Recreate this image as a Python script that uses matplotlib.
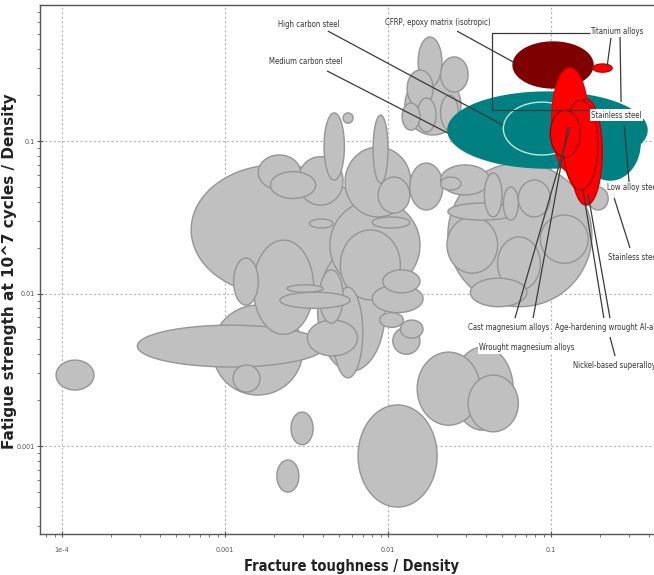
import numpy as np
import matplotlib
matplotlib.use("Agg")
import matplotlib.pyplot as plt
from matplotlib import font_manager as fm
from matplotlib.ticker import FixedLocator, FixedFormatter, LogLocator, NullFormatter

# Background material families: ranges of fracture toughness / density (k)
# and fatigue strength at 10^7 cycles / density (f)
bg_k_lo = [6.2e-4, 1.9e-3, 2.8e-3, 1.6e-3, 4.05e-3, 5.3e-3, 8.1e-3, 5.45e-3, 1.36e-2, 8.7e-3,
           8.0e-3, 3.3e-3, 1.49e-3, 1.13e-3, 8.4e-4, 2.9e-4, 1.12e-3, 2.4e-3, 2.17e-3, 3.2e-3,
           4.6e-3, 3.7e-3, 8.0e-3, 9.3e-3, 8.9e-3, 1.07e-2, 1.19e-2, 3.8e-3, 4.4e-3, 5.1e-3,
           2.33e-2, 2.33e-2, 2.3e-2, 3.9e-2, 5.1e-2, 4.7e-2, 8.6e-2, 3.2e-2, 1.69e-1, 2.1e-2,
           6.3e-2, 2.1e-2, 1.27e-2, 1.53e-2, 2.1e-2, 1.31e-2, 1.22e-2, 1.51e-2, 2.1e-2, 1.51e-2,
           2.5e-2, 3.1e-2, 6.55e-3, 2.54e-3, 2.08e-3, 9.2e-5]
bg_k_hi = [7.2e-3, 3.6e-3, 5.3e-3, 2.9e-3, 5.4e-3, 6.1e-3, 1.0e-2, 1.38e-2, 2.17e-2, 1.36e-2,
           1.36e-2, 4.6e-3, 3.5e-3, 1.6e-3, 3.0e-3, 4.1e-3, 1.64e-3, 4.0e-3, 5.85e-3, 6.5e-3,
           7.0e-3, 9.6e-3, 1.64e-2, 1.57e-2, 1.24e-2, 1.57e-2, 1.64e-2, 5.3e-3, 1.57e-2, 1.19e-2,
           1.78e-1, 6.2e-2, 4.7e-2, 5.0e-2, 6.3e-2, 8.6e-2, 1.69e-1, 7.1e-2, 2.24e-1, 4.2e-2,
           9.9e-2, 2.8e-2, 2.8e-2, 2.14e-2, 3.1e-2, 1.89e-2, 1.57e-2, 1.97e-2, 2.7e-2, 3.67e-2,
           5.85e-2, 6.3e-2, 2.0e-2, 3.47e-3, 2.84e-3, 1.57e-4]
bg_f_lo = [0.0098, 0.042, 0.038, 0.048, 0.0555, 0.131, 0.053, 0.0318, 0.0353, 0.0337,
           0.0269, 0.0269, 0.0054, 0.0084, 0.00216, 0.0033, 0.00226, 0.0102, 0.0080, 0.0039,
           0.0028, 0.0031, 0.0075, 0.0101, 0.0060, 0.0040, 0.0051, 0.0064, 0.0105, 0.0091,
           0.0082, 0.0303, 0.0136, 0.0318, 0.0303, 0.0105, 0.0158, 0.0082, 0.0353, 0.0443,
           0.0318, 0.0477, 0.1095, 0.226, 0.2095, 0.167, 0.118, 0.1146, 0.118, 0.00137,
           0.00127, 0.00124, 0.000398, 0.00102, 0.000499, 0.00233]
bg_f_hi = [0.070, 0.063, 0.079, 0.081, 0.153, 0.153, 0.148, 0.0913, 0.0717, 0.0581,
           0.0318, 0.0308, 0.0224, 0.0171, 0.0084, 0.0062, 0.0034, 0.0114, 0.0102, 0.0067,
           0.0110, 0.0193, 0.0114, 0.0143, 0.0075, 0.0060, 0.0067, 0.0143, 0.041, 0.0261,
           0.0717, 0.0392, 0.0318, 0.0617, 0.0499, 0.0235, 0.0327, 0.0126, 0.0499, 0.0697,
           0.0555, 0.0581, 0.271, 0.481, 0.356, 0.292, 0.1775, 0.1915, 0.200, 0.00413,
           0.00446, 0.00292, 0.00186, 0.00167, 0.00081, 0.00366]

# Highlighted families, in drawing order
hl_names = ["Medium carbon steel", "High carbon steel", "Low alloy steel",
            "CFRP, epoxy matrix (isotropic)", "Titanium alloys",
            "Age-hardening wrought Al-alloys", "Nickel-based superalloys",
            "Wrought magnesium alloys", "Cast magnesium alloys"]
hl_k_lo = [2.33e-2, 5.1e-2, 1.51e-1, 5.85e-2, 1.81e-1, 1.01e-1, 1.31e-1, 1.19e-1, 9.9e-2]
hl_k_hi = [3.88e-1, 1.51e-1, 3.52e-1, 1.81e-1, 2.37e-1, 1.69e-1, 2.06e-1, 1.94e-1, 1.51e-1]
hl_f_lo = [0.0665, 0.081, 0.0555, 0.223, 0.283, 0.0626, 0.038, 0.0477, 0.0785]
hl_f_hi = [0.2095, 0.180, 0.172, 0.446, 0.320, 0.301, 0.1885, 0.1857, 0.1595]
hl_face = ["#008080", "#008080", "#008080", "#7f0000", "#ff0000",
           "#ff0000", "#ff0000", "#ff0000", "#ff0000"]
hl_edge = ["#008080", "#bfe5e5", "#008080", "#7f0000", "#c00000",
           "#e00000", "#c00000", "#9a0000", "#9a0000"]

x_ticks = [1e-4, 1e-3, 1e-2, 1e-1]
x_tick_labels = ["1e-4", "0.001", "0.01", "0.1"]
y_ticks = [1e-3, 1e-2, 1e-1]
y_tick_labels = ["0.001", "0.01", "0.1"]


def narrow_font(bold, size):
    """Pick an installed condensed sans-serif face, if there is one."""
    want_w = 700 if bold else 400
    cands = []
    for f in fm.fontManager.ttflist:
        if f.style != "normal" or "Serif" in f.name or "Mono" in f.name:
            continue
        st = f.stretch
        if isinstance(st, str):
            st = fm.stretch_dict.get(st, 500)
        w = f.weight
        if isinstance(w, str):
            w = fm.weight_dict.get(w, 400)
        named = ("Narrow" in f.name) or ("Condensed" in f.name)
        if st >= 500 and not named:
            continue
        eff = st if st < 500 else 300
        cands.append((abs(w - want_w) + abs(eff - 300) * 0.5, f.fname))
    if cands:
        cands.sort()
        return fm.FontProperties(fname=cands[0][1], size=size)
    return fm.FontProperties(family="DejaVu Sans", size=size * 0.8,
                             weight="bold" if bold else "normal")


def envelope(k_lo, k_hi, f_lo, f_hi, n=200):
    """Ellipse spanning the property ranges on log-log axes."""
    lx0, lx1 = np.log10(k_lo), np.log10(k_hi)
    ly0, ly1 = np.log10(f_lo), np.log10(f_hi)
    t = np.linspace(0, 2 * np.pi, n)
    cx, rx = (lx0 + lx1) / 2, (lx1 - lx0) / 2
    cy, ry = (ly0 + ly1) / 2, (ly1 - ly0) / 2
    return 10 ** (cx + rx * np.cos(t)), 10 ** (cy + ry * np.sin(t))


label_fp = narrow_font(False, 5.6)
tick_fp = narrow_font(False, 5.2)
xlabel_fp = narrow_font(True, 10.5)

fig = plt.figure(figsize=(6.54, 5.75), dpi=100)
ax = fig.add_axes([40 / 654, 41 / 575, 660 / 654, 529 / 575])
ax.set_xscale("log")
ax.set_yscale("log")
ax.set_xlim(7.33e-5, 0.82)
ax.set_ylim(2.65e-4, 0.78)

# background bubbles, largest first so smaller ones stay visible
areas = [np.log10(b / a) * np.log10(d / c)
         for a, b, c, d in zip(bg_k_lo, bg_k_hi, bg_f_lo, bg_f_hi)]
for i in np.argsort(areas)[::-1]:
    xs, ys = envelope(bg_k_lo[i], bg_k_hi[i], bg_f_lo[i], bg_f_hi[i])
    ax.fill(xs, ys, facecolor="#c0c0c0", edgecolor="#959595", lw=1.0, zorder=2)

for i in range(len(hl_names)):
    xs, ys = envelope(hl_k_lo[i], hl_k_hi[i], hl_f_lo[i], hl_f_hi[i])
    ax.fill(xs, ys, facecolor=hl_face[i], edgecolor=hl_edge[i], lw=1.0, zorder=3 + i * 0.01)

# leader lines
leaders = [
    ([4.28e-3, 5.08e-2], [0.526, 0.127]),
    ([4.23e-3, 2.33e-2], [0.288, 0.1128]),
    ([2.65e-2, 6.01e-2], [0.526, 0.325]),
    ([2.33e-1, 2.21e-1], [0.4735, 0.310]),
    ([2.65e-1, 2.69e-1], [0.481, 0.180]),
    ([1.73e-1, 4.35e-2, 4.35e-2, 1.69e-1], [0.511, 0.511, 0.1595, 0.1595]),
    ([3.01e-1, 2.81e-1], [0.0538, 0.127]),
    ([3.05e-1, 2.44e-1], [0.0199, 0.0423]),
    ([6.01e-2, 1.31e-1], [0.0069, 0.1236]),
    ([7.76e-2, 1.27e-1], [0.0069, 0.1236]),
    ([2.11e-1, 1.57e-1], [0.0069, 0.0477]),
    ([2.30e-1, 1.69e-1], [0.0069, 0.0443]),
    ([2.47e-1, 2.30e-1], [0.00389, 0.00519]),
]
for xs, ys in leaders:
    ax.plot(xs, ys, color="#3a3a3a", lw=0.9, zorder=5, solid_capstyle="butt")

labels = [
    ("High carbon steel", 3.28e-3, 0.585, "center", False),
    ("Medium carbon steel", 3.14e-3, 0.330, "center", False),
    ("CFRP, epoxy matrix (isotropic)", 2.03e-2, 0.603, "center", False),
    ("Titanium alloys", 1.73e-1, 0.526, "left", False),
    ("Stainless steel", 1.76e-1, 0.148, "left", True),
    ("Low alloy steel", 2.21e-1, 0.0499, "left", False),
    ("Stainless steel", 2.24e-1, 0.01736, "left", False),
    ("Cast magnesium alloys", 5.52e-2, 0.00603, "center", False),
    ("Age-hardening wrought Al-alloys", 1.058e-1, 0.00603, "left", False),
    ("Wrought magnesium alloys", 7.13e-2, 0.0044, "center", True),
    ("Nickel-based superalloys", 1.365e-1, 0.00335, "left", False),
]
for text, x, y, ha, boxed in labels:
    kw = {}
    if boxed:
        kw["bbox"] = dict(facecolor="white", edgecolor="none", pad=1.0)
    ax.text(x, y, text, ha=ha, va="center", fontproperties=label_fp,
            color="#333333", zorder=6, **kw)

# axes styling
ax.xaxis.set_major_locator(FixedLocator(x_ticks))
ax.xaxis.set_major_formatter(FixedFormatter(x_tick_labels))
ax.yaxis.set_major_locator(FixedLocator(y_ticks))
ax.yaxis.set_major_formatter(FixedFormatter(y_tick_labels))
for axis in (ax.xaxis, ax.yaxis):
    axis.set_minor_locator(LogLocator(base=10, subs=np.arange(2, 10)))
    axis.set_minor_formatter(NullFormatter())
ax.tick_params(which="major", direction="inout", length=5, width=0.8, color="#555555",
               labelcolor="#555555")
ax.tick_params(axis="x", which="major", pad=7)
ax.tick_params(axis="y", which="major", pad=1.5)
ax.tick_params(which="minor", direction="out", length=2.5, width=0.7, color="#777777")
for lab in ax.get_xticklabels() + ax.get_yticklabels():
    lab.set_fontproperties(tick_fp)
ax.grid(True, which="major", color="#b5b5b5", lw=0.8, ls=(0, (2, 2)), zorder=1)
ax.set_axisbelow(True)
for side in ("left", "bottom", "top", "right"):
    ax.spines[side].set_color("#555555")
    ax.spines[side].set_linewidth(1.0)

fig.text(9.5 / 654, 1 - 271 / 575, "Fatigue strength at 10^7 cycles / Density",
         rotation=90, ha="center", va="center", fontsize=11, fontweight="bold",
         color="#222222")
fig.text(351 / 654, 1 - 566 / 575, "Fracture toughness / Density",
         ha="center", va="center", fontproperties=xlabel_fp, color="#222222")

fig.savefig("out.png", dpi=100, facecolor="white")
